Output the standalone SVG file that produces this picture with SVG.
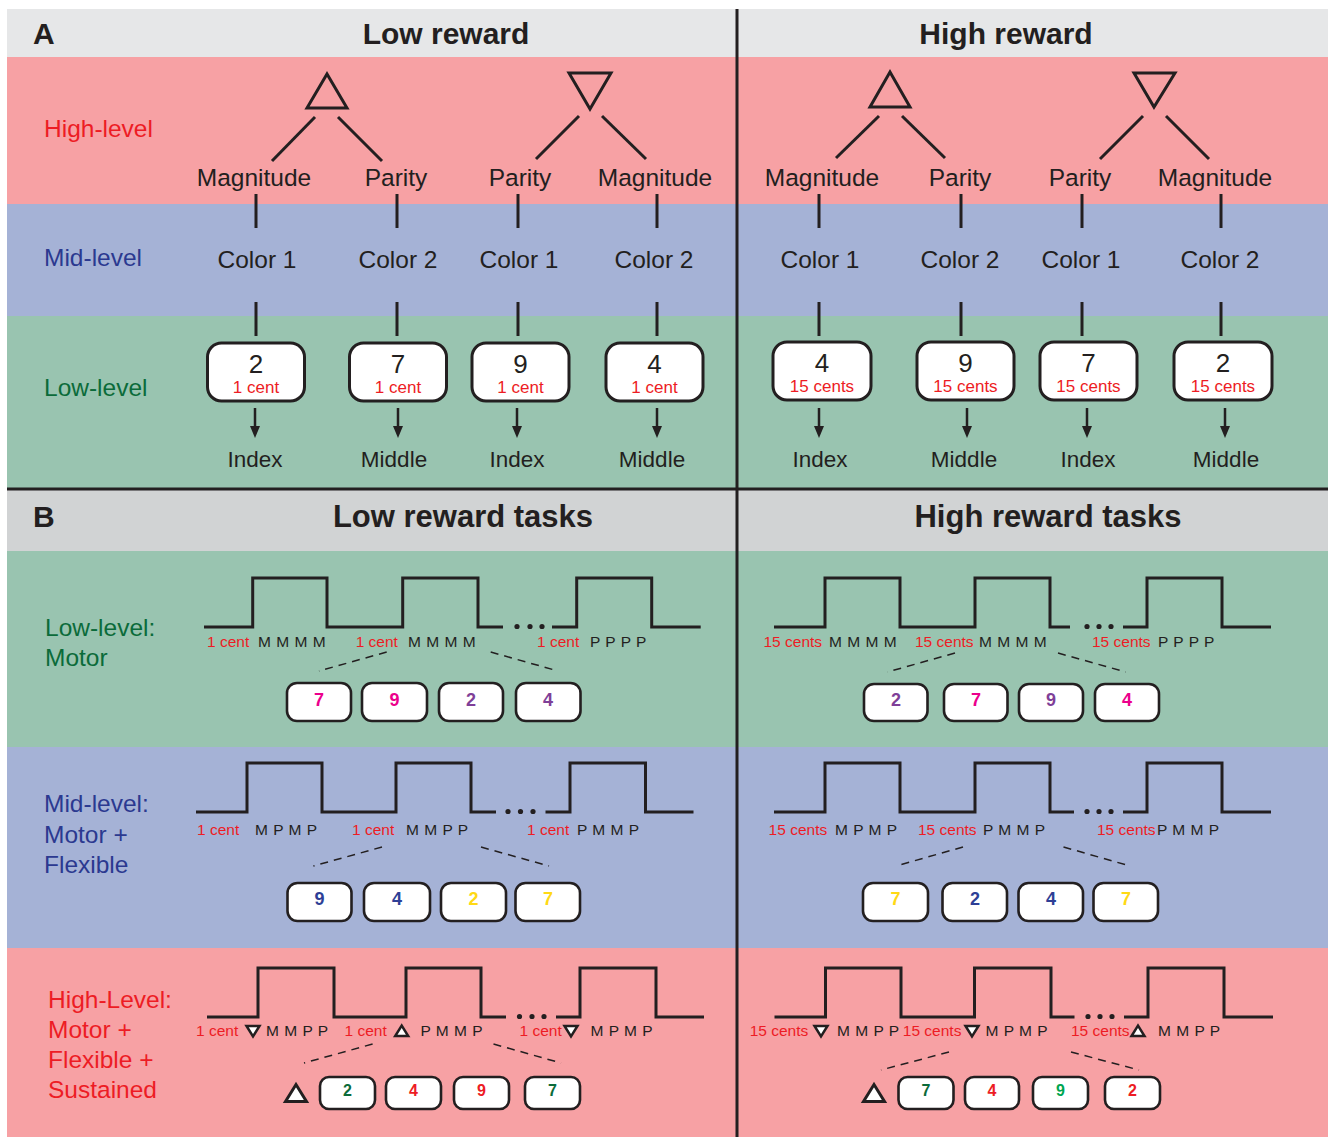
<svg xmlns="http://www.w3.org/2000/svg" width="1328" height="1137" viewBox="0 0 1328 1137">
<style>
text{font-family:"Liberation Sans",Arial,Helvetica,sans-serif;fill:#231f20}
.hd{font-size:30px;font-weight:bold}
.hd2{font-size:31px;font-weight:bold}
.lv{font-size:24.5px}
.red{fill:#ed1c24}
.blu{fill:#2b3990}
.grn{fill:#0b6b3a}
.nm{font-size:24.5px;text-anchor:middle}
.fg{font-size:22.5px;text-anchor:middle}
.bx{fill:#fff;stroke:#231f20;stroke-width:3}
.bxs{fill:#fff;stroke:#231f20;stroke-width:2.6}
.dig{font-size:26px;text-anchor:middle}
.cent{font-size:17px;text-anchor:middle;fill:#ed1c24}
.tk{font-size:15.5px;fill:#ed1c24}
.seq{font-size:15.5px;word-spacing:1px}
.d{font-size:18px;font-weight:bold;text-anchor:middle}
.ds{font-size:16px;font-weight:bold;text-anchor:middle}
.mag{fill:#ec008c}.pur{fill:#7f3f98}.nb{fill:#2e3f96}.yel{fill:#ffd914}.dg{fill:#0b6b3a}.rd{fill:#ed1c24}.bg{fill:#00a651}
.ln{stroke:#231f20;stroke-width:3;fill:none}
.arr{stroke:#231f20;stroke-width:2.5;fill:none;marker-end:url(#arrow)}
.wave{stroke:#231f20;stroke-width:3;fill:none;stroke-linejoin:miter}
.dash{stroke:#231f20;stroke-width:1.5;stroke-dasharray:8 6;fill:none}
.tri{fill:none;stroke:#231f20;stroke-width:3;stroke-linejoin:miter}
.mk{fill:#fff;stroke:#231f20;stroke-width:2.5;stroke-linejoin:miter}
.mkb{fill:#fff;stroke:#231f20;stroke-width:3;stroke-linejoin:miter}
.dot{fill:#231f20}
.div{stroke:#231f20;stroke-width:3}
</style>
<defs>
  <marker id="arrow" markerUnits="userSpaceOnUse" markerWidth="12" markerHeight="10" viewBox="0 0 12 10" refX="6" refY="5" orient="auto">
    <path d="M0,0 L12,5 L0,10 Z" fill="#231f20"/>
  </marker>
  <path id="tdn" d="M-6.5,-5 H6.5 L0,5.5 Z"/>
  <path id="tup" d="M-6.5,5 H6.5 L0,-5.5 Z"/>
  <path id="tbig" d="M-10.5,8.5 H10.5 L0,-8.5 Z"/>
</defs>

<rect width="1328" height="1137" fill="#fff"/>

<!-- background bands -->
<g id="bands">
  <rect x="7" y="9" width="1321" height="48" fill="#e6e7e8"/>
  <rect x="7" y="57" width="1321" height="147" fill="#f7a1a4"/>
  <rect x="7" y="204" width="1321" height="112" fill="#a5b2d6"/>
  <rect x="7" y="316" width="1321" height="173" fill="#99c4b0"/>
  <rect x="7" y="489" width="1321" height="62" fill="#d1d3d4"/>
  <rect x="7" y="551" width="1321" height="196" fill="#99c4b0"/>
  <rect x="7" y="747" width="1321" height="201" fill="#a5b2d6"/>
  <rect x="7" y="948" width="1321" height="189" fill="#f7a1a4"/>
  <line class="div" x1="7" y1="489" x2="1328" y2="489"/>
  <line class="div" x1="737" y1="9" x2="737" y2="1137"/>
</g>

<!-- headers -->
<g id="headers">
  <text class="hd" x="33" y="44">A</text>
  <text class="hd" x="446" y="44" text-anchor="middle">Low reward</text>
  <text class="hd" x="1006" y="44" text-anchor="middle">High reward</text>
  <text class="hd" x="33" y="527">B</text>
  <text class="hd2" x="463" y="527" text-anchor="middle">Low reward tasks</text>
  <text class="hd2" x="1048" y="527" text-anchor="middle">High reward tasks</text>
</g>

<!-- level labels -->
<g id="level-labels">
  <text class="lv red" x="44" y="137">High-level</text>
  <text class="lv blu" x="44" y="266">Mid-level</text>
  <text class="lv grn" x="44" y="396">Low-level</text>
  <text class="lv grn" x="45" y="636">Low-level:</text>
  <text class="lv grn" x="45" y="666">Motor</text>
  <text class="lv blu" x="44" y="812">Mid-level:</text>
  <text class="lv blu" x="44" y="843">Motor +</text>
  <text class="lv blu" x="44" y="873">Flexible</text>
  <text class="lv red" x="48" y="1008">High-Level:</text>
  <text class="lv red" x="48" y="1038">Motor +</text>
  <text class="lv red" x="48" y="1068">Flexible +</text>
  <text class="lv red" x="48" y="1098">Sustained</text>
</g>

<!-- panel A: rule trees -->
<g id="rule-up-low"><polygon class="tri" points="307,108 347,108 327,74"/></g>
<g id="rule-down-low"><polygon class="tri" points="569,73 611,73 590,109"/></g>
<g id="rule-up-high"><polygon class="tri" points="870,107 910,107 890,72"/></g>
<g id="rule-down-high"><polygon class="tri" points="1134,73 1175,73 1154,107"/></g>

<g id="dims-low">
  <text class="nm" x="254" y="186">Magnitude</text>
  <text class="nm" x="396" y="186">Parity</text>
  <text class="nm" x="520" y="186">Parity</text>
  <text class="nm" x="655" y="186">Magnitude</text>
</g>
<g id="dims-high">
  <text class="nm" x="822" y="186">Magnitude</text>
  <text class="nm" x="960" y="186">Parity</text>
  <text class="nm" x="1080" y="186">Parity</text>
  <text class="nm" x="1215" y="186">Magnitude</text>
</g>
<g id="colors-low">
  <text class="nm" x="257" y="268">Color 1</text>
  <text class="nm" x="398" y="268">Color 2</text>
  <text class="nm" x="519" y="268">Color 1</text>
  <text class="nm" x="654" y="268">Color 2</text>
</g>
<g id="colors-high">
  <text class="nm" x="820" y="268">Color 1</text>
  <text class="nm" x="960" y="268">Color 2</text>
  <text class="nm" x="1081" y="268">Color 1</text>
  <text class="nm" x="1220" y="268">Color 2</text>
</g>

<g id="stim-low">
  <g id="stim-low-1"><rect class="bx" x="207.5" y="343" width="97" height="58" rx="14"/><text class="dig" x="256" y="373">2</text><text class="cent" x="256" y="393">1 cent</text></g>
  <g id="stim-low-2"><rect class="bx" x="349.5" y="343" width="97" height="58" rx="14"/><text class="dig" x="398" y="373">7</text><text class="cent" x="398" y="393">1 cent</text></g>
  <g id="stim-low-3"><rect class="bx" x="472" y="343" width="97" height="58" rx="14"/><text class="dig" x="520.5" y="373">9</text><text class="cent" x="520.5" y="393">1 cent</text></g>
  <g id="stim-low-4"><rect class="bx" x="606" y="343" width="97" height="58" rx="14"/><text class="dig" x="654.5" y="373">4</text><text class="cent" x="654.5" y="393">1 cent</text></g>
</g>
<g id="stim-high">
  <g id="stim-high-1"><rect class="bx" x="773" y="342" width="98" height="58" rx="14"/><text class="dig" x="822" y="372">4</text><text class="cent" x="822" y="392">15 cents</text></g>
  <g id="stim-high-2"><rect class="bx" x="917" y="342" width="97" height="58" rx="14"/><text class="dig" x="965.5" y="372">9</text><text class="cent" x="965.5" y="392">15 cents</text></g>
  <g id="stim-high-3"><rect class="bx" x="1040" y="342" width="97" height="58" rx="14"/><text class="dig" x="1088.5" y="372">7</text><text class="cent" x="1088.5" y="392">15 cents</text></g>
  <g id="stim-high-4"><rect class="bx" x="1174" y="342" width="98" height="58" rx="14"/><text class="dig" x="1223" y="372">2</text><text class="cent" x="1223" y="392">15 cents</text></g>
</g>

<g id="fingers-low">
  <text class="fg" x="255" y="467">Index</text>
  <text class="fg" x="394" y="467">Middle</text>
  <text class="fg" x="517" y="467">Index</text>
  <text class="fg" x="652" y="467">Middle</text>
</g>
<g id="fingers-high">
  <text class="fg" x="820" y="467">Index</text>
  <text class="fg" x="964" y="467">Middle</text>
  <text class="fg" x="1088" y="467">Index</text>
  <text class="fg" x="1226" y="467">Middle</text>
</g>

<!-- panel B: block timelines -->
<g id="wave-motor-low">
  <path class="wave" d="M204,627 H252.7 V578 H327 V627 H402.7 V578 H478 V627 H503 M552,627 H576.7 V578 H651.7 V627 H700.7"/>
  <circle class="dot" cx="517" cy="626.5" r="2.6"/><circle class="dot" cx="530" cy="626.5" r="2.6"/><circle class="dot" cx="542" cy="626.5" r="2.6"/>
  <text class="tk" x="207" y="647">1 cent</text><text class="seq" x="258" y="647">M M M M</text>
  <text class="tk" x="355.7" y="647">1 cent</text><text class="seq" x="408" y="647">M M M M</text>
  <text class="tk" x="537" y="647">1 cent</text><text class="seq" x="590" y="647">P P P P</text>
</g>
<g id="wave-motor-high">
  <path class="wave" d="M774,627 H825 V578 H900 V627 H975 V578 H1050 V627 H1070 M1123,627 H1147 V578 H1222 V627 H1271"/>
  <circle class="dot" cx="1087" cy="626.5" r="2.6"/><circle class="dot" cx="1099" cy="626.5" r="2.6"/><circle class="dot" cx="1111" cy="626.5" r="2.6"/>
  <text class="tk" x="763.5" y="647">15 cents</text><text class="seq" x="829" y="647">M M M M</text>
  <text class="tk" x="915" y="647">15 cents</text><text class="seq" x="979" y="647">M M M M</text>
  <text class="tk" x="1092" y="647">15 cents</text><text class="seq" x="1158" y="647">P P P P</text>
</g>
<g id="wave-flex-low">
  <path class="wave" d="M196,812 H247 V763 H322 V812 H396 V763 H471 V812 H496 M545.5,812 H570 V763 H645.5 V812 H693.5"/>
  <circle class="dot" cx="508" cy="811.5" r="2.6"/><circle class="dot" cx="520.5" cy="811.5" r="2.6"/><circle class="dot" cx="533" cy="811.5" r="2.6"/>
  <text class="tk" x="197" y="835">1 cent</text><text class="seq" x="255" y="835">M P M P</text>
  <text class="tk" x="352" y="835">1 cent</text><text class="seq" x="406" y="835">M M P P</text>
  <text class="tk" x="527" y="835">1 cent</text><text class="seq" x="577" y="835">P M M P</text>
</g>
<g id="wave-flex-high">
  <path class="wave" d="M774,812 H825 V763 H900 V812 H975 V763 H1050 V812 H1074 M1123,812 H1147 V763 H1222 V812 H1271"/>
  <circle class="dot" cx="1087" cy="811.5" r="2.6"/><circle class="dot" cx="1099" cy="811.5" r="2.6"/><circle class="dot" cx="1111" cy="811.5" r="2.6"/>
  <text class="tk" x="768.6" y="835">15 cents</text><text class="seq" x="835" y="835">M P M P</text>
  <text class="tk" x="918" y="835">15 cents</text><text class="seq" x="983" y="835">P M M P</text>
  <text class="tk" x="1097" y="835">15 cents</text><text class="seq" x="1157" y="835">P M M P</text>
</g>
<g id="wave-sust-low">
  <path class="wave" d="M207,1017 H258 V968 H334 V1017 H406 V968 H481 V1017 H506 M556,1017 H580 V968 H656 V1017 H704"/>
  <circle class="dot" cx="519.5" cy="1016.5" r="2.6"/><circle class="dot" cx="532" cy="1016.5" r="2.6"/><circle class="dot" cx="544" cy="1016.5" r="2.6"/>
  <text class="tk" x="196" y="1036">1 cent</text><use href="#tdn" class="mk" x="253" y="1031"/><text class="seq" x="266" y="1036">M M P P</text>
  <text class="tk" x="344.5" y="1036">1 cent</text><use href="#tup" class="mk" x="401.7" y="1031"/><text class="seq" x="420.5" y="1036">P M M P</text>
  <text class="tk" x="519.5" y="1036">1 cent</text><use href="#tdn" class="mk" x="571" y="1031"/><text class="seq" x="590.5" y="1036">M P M P</text>
</g>
<g id="wave-sust-high">
  <path class="wave" d="M774.5,1017 H825.5 V968 H901 V1017 H974.5 V968 H1051 V1017 H1074.5 M1124,1017 H1148 V968 H1224 V1017 H1273"/>
  <circle class="dot" cx="1088" cy="1016.5" r="2.6"/><circle class="dot" cx="1100" cy="1016.5" r="2.6"/><circle class="dot" cx="1112" cy="1016.5" r="2.6"/>
  <text class="tk" x="749.7" y="1036">15 cents</text><use href="#tdn" class="mk" x="821" y="1031"/><text class="seq" x="837" y="1036">M M P P</text>
  <text class="tk" x="902.8" y="1036">15 cents</text><use href="#tdn" class="mk" x="972" y="1031"/><text class="seq" x="985.5" y="1036">M P M P</text>
  <text class="tk" x="1071" y="1036">15 cents</text><use href="#tup" class="mk" x="1138" y="1031"/><text class="seq" x="1158" y="1036">M M P P</text>
</g>

<!-- panel B: trial sequences -->
<g id="seq-motor-low">
  <rect class="bxs" x="287" y="683" width="64" height="38" rx="10"/><text class="d mag" x="319" y="706">7</text>
  <rect class="bxs" x="362" y="683" width="65" height="38" rx="10"/><text class="d mag" x="394.5" y="706">9</text>
  <rect class="bxs" x="439" y="683" width="64" height="38" rx="10"/><text class="d pur" x="471" y="706">2</text>
  <rect class="bxs" x="516" y="683" width="64.5" height="38" rx="10"/><text class="d pur" x="548" y="706">4</text>
</g>
<g id="seq-motor-high">
  <rect class="bxs" x="864" y="684" width="63.5" height="37" rx="10"/><text class="d pur" x="896" y="706">2</text>
  <rect class="bxs" x="944" y="684" width="63.5" height="37" rx="10"/><text class="d mag" x="976" y="706">7</text>
  <rect class="bxs" x="1019" y="684" width="64" height="37" rx="10"/><text class="d pur" x="1051" y="706">9</text>
  <rect class="bxs" x="1095" y="684" width="64" height="37" rx="10"/><text class="d mag" x="1127" y="706">4</text>
</g>
<g id="seq-flex-low">
  <rect class="bxs" x="287.5" y="883" width="64" height="38" rx="10"/><text class="d nb" x="319.5" y="905">9</text>
  <rect class="bxs" x="364" y="883" width="66" height="38" rx="10"/><text class="d nb" x="397" y="905">4</text>
  <rect class="bxs" x="441" y="883" width="65" height="38" rx="10"/><text class="d yel" x="473.5" y="905">2</text>
  <rect class="bxs" x="515.5" y="883" width="64.5" height="38" rx="10"/><text class="d yel" x="548" y="905">7</text>
</g>
<g id="seq-flex-high">
  <rect class="bxs" x="863" y="883" width="65" height="38" rx="10"/><text class="d yel" x="895.5" y="905">7</text>
  <rect class="bxs" x="942.5" y="883" width="64.5" height="38" rx="10"/><text class="d nb" x="975" y="905">2</text>
  <rect class="bxs" x="1018.5" y="883" width="64.5" height="38" rx="10"/><text class="d nb" x="1051" y="905">4</text>
  <rect class="bxs" x="1093.5" y="883" width="64.5" height="38" rx="10"/><text class="d yel" x="1126" y="905">7</text>
</g>
<g id="seq-sust-low">
  <use href="#tbig" class="mkb" x="296" y="1093"/>
  <rect class="bxs" x="320" y="1077" width="55" height="32" rx="9"/><text class="ds dg" x="347.5" y="1096">2</text>
  <rect class="bxs" x="386" y="1077" width="55" height="32" rx="9"/><text class="ds rd" x="413.5" y="1096">4</text>
  <rect class="bxs" x="454" y="1077" width="55" height="32" rx="9"/><text class="ds rd" x="481.5" y="1096">9</text>
  <rect class="bxs" x="525" y="1077" width="55" height="32" rx="9"/><text class="ds dg" x="552.5" y="1096">7</text>
</g>
<g id="seq-sust-high">
  <use href="#tbig" class="mkb" x="874" y="1093"/>
  <rect class="bxs" x="898.5" y="1077" width="55" height="32" rx="9"/><text class="ds dg" x="926" y="1096">7</text>
  <rect class="bxs" x="965" y="1077" width="54" height="32" rx="9"/><text class="ds rd" x="992" y="1096">4</text>
  <rect class="bxs" x="1033" y="1077" width="55" height="32" rx="9"/><text class="ds bg" x="1060.5" y="1096">9</text>
  <rect class="bxs" x="1105" y="1077" width="55" height="32" rx="9"/><text class="ds rd" x="1132.5" y="1096">2</text>
</g>

<!-- connectors -->
<g id="connectors">
  <line class="ln" x1="315" y1="117" x2="272" y2="161"/>
  <line class="ln" x1="338" y1="117" x2="382" y2="161"/>
  <line class="ln" x1="579" y1="116" x2="536" y2="159"/>
  <line class="ln" x1="602" y1="116" x2="646" y2="159"/>
  <line class="ln" x1="879" y1="116" x2="836" y2="158"/>
  <line class="ln" x1="902" y1="116" x2="945" y2="158"/>
  <line class="ln" x1="1143" y1="116" x2="1100" y2="159"/>
  <line class="ln" x1="1166" y1="116" x2="1209" y2="159"/>

  <line class="ln" x1="256" y1="194" x2="256" y2="228"/>
  <line class="ln" x1="397" y1="194" x2="397" y2="228"/>
  <line class="ln" x1="518" y1="194" x2="518" y2="228"/>
  <line class="ln" x1="657" y1="194" x2="657" y2="228"/>
  <line class="ln" x1="819" y1="194" x2="819" y2="228"/>
  <line class="ln" x1="961" y1="194" x2="961" y2="228"/>
  <line class="ln" x1="1082" y1="194" x2="1082" y2="228"/>
  <line class="ln" x1="1221" y1="194" x2="1221" y2="228"/>

  <line class="ln" x1="256" y1="302" x2="256" y2="336"/>
  <line class="ln" x1="397" y1="302" x2="397" y2="336"/>
  <line class="ln" x1="518" y1="302" x2="518" y2="336"/>
  <line class="ln" x1="657" y1="302" x2="657" y2="336"/>
  <line class="ln" x1="819" y1="302" x2="819" y2="336"/>
  <line class="ln" x1="961" y1="302" x2="961" y2="336"/>
  <line class="ln" x1="1082" y1="302" x2="1082" y2="336"/>
  <line class="ln" x1="1221" y1="302" x2="1221" y2="336"/>

  <line class="arr" x1="255" y1="408" x2="255" y2="432"/>
  <line class="arr" x1="398" y1="408" x2="398" y2="432"/>
  <line class="arr" x1="517" y1="408" x2="517" y2="432"/>
  <line class="arr" x1="657" y1="408" x2="657" y2="432"/>
  <line class="arr" x1="819" y1="408" x2="819" y2="432"/>
  <line class="arr" x1="967" y1="408" x2="967" y2="432"/>
  <line class="arr" x1="1087" y1="408" x2="1087" y2="432"/>
  <line class="arr" x1="1225" y1="408" x2="1225" y2="432"/>

  <line class="dash" x1="386.7" y1="652" x2="319" y2="671"/>
  <line class="dash" x1="490.7" y1="652" x2="558" y2="671"/>
  <line class="dash" x1="955" y1="653" x2="887.5" y2="672"/>
  <line class="dash" x1="1058" y1="653" x2="1125.7" y2="672"/>
  <line class="dash" x1="382" y1="847" x2="313.4" y2="866"/>
  <line class="dash" x1="481" y1="847" x2="549" y2="866"/>
  <line class="dash" x1="963" y1="847" x2="896" y2="866"/>
  <line class="dash" x1="1063.5" y1="847" x2="1130" y2="866"/>
  <line class="dash" x1="372.6" y1="1044" x2="304" y2="1063"/>
  <line class="dash" x1="493.5" y1="1044" x2="561" y2="1063"/>
  <line class="dash" x1="949" y1="1052" x2="881" y2="1070"/>
  <line class="dash" x1="1071" y1="1052" x2="1139" y2="1070"/>
</g>
</svg>
